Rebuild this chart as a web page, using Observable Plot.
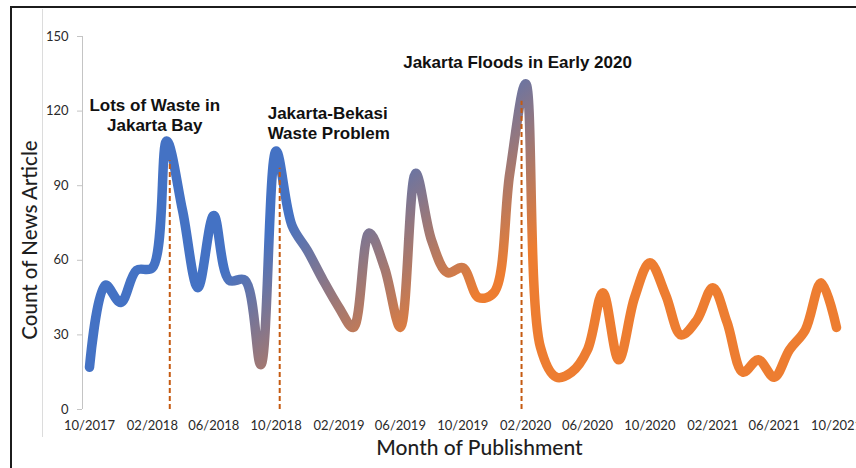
<!DOCTYPE html>
<html>
<head>
<meta charset="utf-8">
<script src="https://cdn.jsdelivr.net/npm/d3@7"></script>
<script src="https://cdn.jsdelivr.net/npm/@observablehq/plot@0.6"></script>
<style>
  html, body { margin: 0; padding: 0; background: #fff; }
  #chart { position: relative; width: 856px; height: 468px; overflow: hidden; background: #fff; }
  #chart svg { position: absolute; left: 0; top: 0; }
  .outer-border { position: absolute; left: 10px; top: 6px; width: 870px; height: 490px; border: 2px solid #1c1c1c; box-sizing: border-box; }
  .area-edge { position: absolute; left: 42px; top: 9px; height: 428px; border-left: 1px solid #dcdcdc; }
</style>
</head>
<body>
<div id="chart"><div class="outer-border"></div><div class="area-edge"></div></div>
<script>
// Monthly count of news articles, October 2017 to October 2021
const startMonth = new Date(Date.UTC(2017, 9, 1));
const articleCounts = [
  17, 50, 43, 56, 57, 108, 80, 49, 78, 52, 52, 18,
  104, 74, 64, 52, 41, 33, 71, 57, 33, 95, 68, 55,
  57, 45, 47, 95, 131, 25, 13, 15, 24, 47, 20, 45,
  59, 46, 30, 36, 49, 35, 15, 20, 13, 24, 32, 51, 33
];
const months = articleCounts.map((_, i) => d3.utcMonth.offset(startMonth, i));
const monthTicks = months.filter((_, i) => i % 4 === 0);
const countTicks = [0, 30, 60, 90, 120, 150];

// Highlighted events: peak month, drop-line date and top, caption
const eventPeakIndex = [5, 12, 28];
const eventDates = [
  new Date(Date.UTC(2018, 2, 7)),
  new Date(Date.UTC(2018, 9, 8)),
  new Date(Date.UTC(2020, 0, 24))
];
const eventLineTops = [100, 97, 124];
const eventLabels = [
  "Lots of Waste in\nJakarta Bay",
  "Jakarta-Bekasi\nWaste Problem",
  "Jakarta Floods in Early 2020"
];

const series = months.map((date, i) => ({date, count: articleCounts[i]}));
const events = eventDates.map((date, i) => ({
  date,
  top: eventLineTops[i],
  peak: articleCounts[eventPeakIndex[i]],
  label: eventLabels[i]
}));

const BLUE = "#4472C4";
const ORANGE = "#ED7D31";
const axisFont = "Lato, 'Open Sans', sans-serif";
const noteFont = "'Liberation Sans', Arial, sans-serif";

const note = (i, opts) => Plot.text([events[i]], {
  x: "date", y: "peak", text: "label",
  fontFamily: noteFont, fontWeight: "bold", fontSize: 17,
  lineHeight: 1.18, lineAnchor: "bottom", fill: "#111",
  ...opts
});

const plot = Plot.plot({
  width: 856,
  height: 468,
  marginLeft: 82,
  marginRight: 20,
  marginTop: 36,
  marginBottom: 59,
  insetLeft: 7,
  style: {fontFamily: axisFont, background: "transparent", overflow: "visible"},
  x: {type: "utc", domain: [months[0], months[months.length - 1]]},
  y: {domain: [0, 150]},
  marks: [
    // vertical axis line
    Plot.ruleX([months[0]], {y1: 0, y2: 150, dx: -7, stroke: "#c4c4c4", strokeWidth: 1}),
    Plot.axisY({
      ticks: countTicks, tickSize: 5, tickPadding: 9, label: null,
      stroke: "#c4c4c4", fill: "#2a2a2a", fontSize: 13
    }),
    Plot.axisX({
      ticks: monthTicks, tickSize: 0, tickPadding: 11, label: null,
      tickFormat: d3.utcFormat("%m/%Y"), fill: "#2a2a2a", fontSize: 13,
      style: {letterSpacing: "0.6px"}
    }),
    Plot.line(series, {
      x: "date", y: "count", curve: "catmull-rom",
      stroke: "url(#trend-gradient)", strokeWidth: 9.5,
      strokeLinecap: "round", strokeLinejoin: "round"
    }),
    Plot.ruleX(events, {
      x: "date", y1: 0, y2: "top",
      stroke: "#C55A11", strokeWidth: 2, strokeDasharray: "5,3"
    }),
    note(0, {dx: -15, dy: -10}),
    note(1, {dx: -12, dy: -12, textAnchor: "start"}),
    note(2, {dx: -4, dy: -16}),
    // axis titles
    Plot.text(["Count of News Article"], {
      frameAnchor: "left", rotate: -90, dx: -52, dy: 17,
      textAnchor: "middle", lineAnchor: "middle",
      fontSize: 20.5, fontWeight: 500, fill: "#1e1e1e"
    }),
    Plot.text(["Month of Publishment"], {
      frameAnchor: "bottom", dx: 20, dy: 39,
      textAnchor: "middle", lineAnchor: "middle",
      fontSize: 21, fontWeight: 500, fill: "#1e1e1e"
    })
  ]
});

// Diagonal blue-to-orange gradient for the trend line, placed in data space
const sx = plot.scale("x"), sy = plot.scale("y");
const gradFrom = {date: new Date(Date.UTC(2018, 5, 20)), value: 56};
const gradTo = {date: new Date(Date.UTC(2019, 1, 1)), value: 0};
const ns = "http://www.w3.org/2000/svg";
const defs = document.createElementNS(ns, "defs");
const grad = document.createElementNS(ns, "linearGradient");
grad.setAttribute("id", "trend-gradient");
grad.setAttribute("gradientUnits", "userSpaceOnUse");
grad.setAttribute("x1", sx.apply(gradFrom.date));
grad.setAttribute("y1", sy.apply(gradFrom.value));
grad.setAttribute("x2", sx.apply(gradTo.date));
grad.setAttribute("y2", sy.apply(gradTo.value));
[[0, BLUE], [1, ORANGE]].forEach(([offset, color]) => {
  const stop = document.createElementNS(ns, "stop");
  stop.setAttribute("offset", offset);
  stop.setAttribute("stop-color", color);
  grad.appendChild(stop);
});
defs.appendChild(grad);
plot.insertBefore(defs, plot.firstChild);

document.getElementById("chart").appendChild(plot);
</script>
</body>
</html>
